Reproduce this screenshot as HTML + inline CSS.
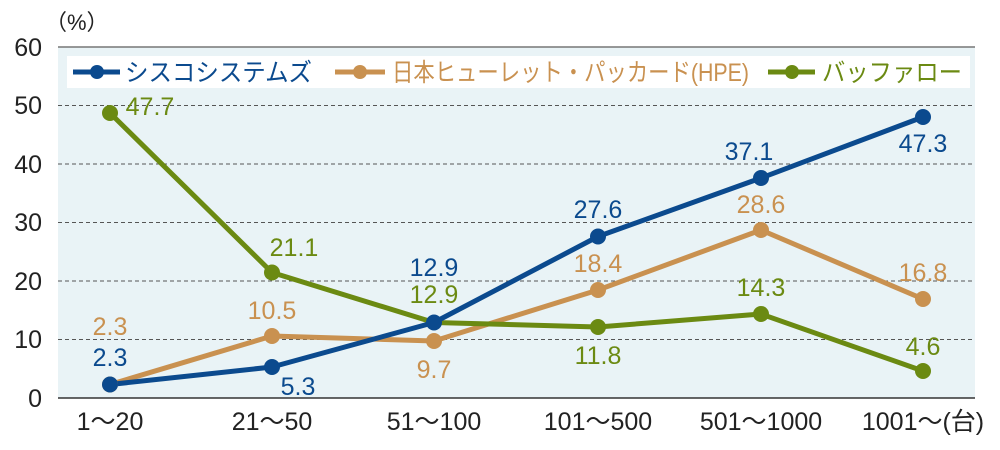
<!DOCTYPE html><html><head><meta charset="utf-8"><style>body{margin:0;background:#fff}svg{display:block}text{font-family:"Liberation Sans","Noto Sans CJK JP",sans-serif}</style></head><body>
<svg width="1000" height="450" xmlns="http://www.w3.org/2000/svg">
<rect x="58" y="47" width="917" height="351" fill="#e9f3f6"/>
<g stroke="#555" stroke-dasharray="4,3" stroke-width="1">
<line x1="58" x2="975" y1="105.5" y2="105.5"/><line x1="58" x2="975" y1="164" y2="164"/><line x1="58" x2="975" y1="222.5" y2="222.5"/><line x1="58" x2="975" y1="281" y2="281"/><line x1="58" x2="975" y1="339.5" y2="339.5"/></g>
<line x1="58" x2="975" y1="47" y2="47" stroke="#777" stroke-width="1.5"/>
<line x1="58" x2="975" y1="398" y2="398" stroke="#333" stroke-width="1.5"/>
<g font-size="25" fill="#222" text-anchor="end">
<text x="42" y="56">60</text><text x="42" y="114">50</text><text x="42" y="173">40</text><text x="42" y="231">30</text><text x="42" y="290">20</text><text x="42" y="348">10</text><text x="42" y="407">0</text></g>
<text x="45" y="30" font-size="22" fill="#222">（%）</text>
<g font-size="25" fill="#222" text-anchor="middle">
<text x="110" y="430">1～20</text><text x="272" y="430">21～50</text><text x="434" y="430">51～100</text><text x="598" y="430">101～500</text><text x="761" y="430">501～1000</text><text x="923" y="430">1001～(台)</text></g>
<rect x="67" y="56" width="903" height="32" fill="#fff"/>
<g font-size="25">
<line x1="73" x2="120" y1="72" y2="72" stroke="#0b4a8e" stroke-width="5"/><circle cx="97" cy="72" r="7" fill="#0b4a8e"/><text x="125" y="81" fill="#0b4a8e" textLength="187" lengthAdjust="spacingAndGlyphs">シスコシステムズ</text>
<line x1="335" x2="385" y1="72" y2="72" stroke="#c99150" stroke-width="5"/><circle cx="360" cy="72" r="7" fill="#c99150"/><text x="392" y="81" fill="#c99150" textLength="357" lengthAdjust="spacingAndGlyphs">日本ヒューレット・パッカード(HPE)</text>
<line x1="768" x2="815" y1="72" y2="72" stroke="#6b8a12" stroke-width="5"/><circle cx="792" cy="72" r="7" fill="#6b8a12"/><text x="822" y="81" fill="#6b8a12" textLength="140" lengthAdjust="spacingAndGlyphs">バッファロー</text></g>
<g stroke-width="5" fill="none" stroke-linejoin="round">
<polyline stroke="#c99150" points="110,384.5 272,336 434,341 598,290 761,230 923,299"/>
<polyline stroke="#6b8a12" points="110,113 272,272.5 434,322.5 598,327 761,314 923,371"/>
<polyline stroke="#0b4a8e" points="110,384.5 272,367 434,322.5 598,236.5 761,178 923,117"/>
</g>
<g fill="#c99150"><circle cx="110" cy="384.5" r="8"/><circle cx="272" cy="336" r="8"/><circle cx="434" cy="341" r="8"/><circle cx="598" cy="290" r="8"/><circle cx="761" cy="230" r="8"/><circle cx="923" cy="299" r="8"/></g>
<g fill="#6b8a12"><circle cx="110" cy="113" r="8"/><circle cx="272" cy="272.5" r="8"/><circle cx="598" cy="327" r="8"/><circle cx="761" cy="314" r="8"/><circle cx="923" cy="371" r="8"/></g>
<g fill="#0b4a8e"><circle cx="110" cy="384.5" r="8"/><circle cx="272" cy="367" r="8"/><circle cx="434" cy="322.5" r="8"/><circle cx="598" cy="236.5" r="8"/><circle cx="761" cy="178" r="8"/><circle cx="923" cy="117" r="8"/></g>
<g font-size="25" text-anchor="middle">
<g fill="#0b4a8e"><text x="110" y="366">2.3</text><text x="298" y="395">5.3</text><text x="434" y="276">12.9</text><text x="598" y="218">27.6</text><text x="749" y="160">37.1</text><text x="923" y="152">47.3</text></g>
<g fill="#c99150"><text x="110" y="335">2.3</text><text x="272" y="319">10.5</text><text x="434" y="378">9.7</text><text x="598" y="272">18.4</text><text x="761" y="213">28.6</text><text x="923" y="281">16.8</text></g>
<g fill="#6b8a12"><text x="150" y="115">47.7</text><text x="294" y="256">21.1</text><text x="434" y="303">12.9</text><text x="598" y="364">11.8</text><text x="761" y="296">14.3</text><text x="923" y="355">4.6</text></g>
</g>
</svg></body></html>
